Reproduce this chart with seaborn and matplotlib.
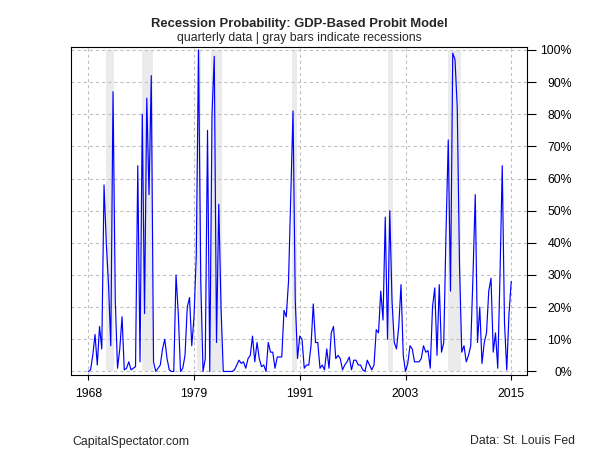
import matplotlib
matplotlib.use("Agg")
import matplotlib.pyplot as plt
import seaborn as sns
import numpy as np
import pandas as pd

# ---------------- data ----------------
start_year = 1968  # first quarter: 1968 Q1, quarterly through 2015 Q1
prob_pct = [
    0, 0.5, 5, 11.5, 2, 14, 7, 58, 40, 27,
    8, 87, 22, 1, 7, 17, 0.5, 1, 3, 0.5,
    1, 1.5, 64, 3, 80, 18, 85, 55, 92, 3,
    0, 1, 2, 7, 10, 4, 0.5, 0, 0, 30,
    18, 0, 1, 5, 20, 23, 8, 17, 36, 100,
    28, 0, 4, 75, 0, 80, 98, 9, 52, 20,
    0, 0, 0, 0, 0, 0.5, 2, 3.5, 2.5, 3,
    1, 4, 5, 11, 3, 9, 4, 1.5, 2, 0,
    9, 6, 6, 1, 4.5, 4.5, 4.5, 19, 17, 28,
    55, 81, 22, 4, 11, 10, 1, 2, 2, 8,
    21, 9, 9, 1, 2, 0.5, 7, 1, 12, 14,
    4, 5, 4, 0.5, 2, 3, 4.5, 0.5, 3.5, 3.5,
    2, 2, 0.5, 0, 3.5, 2, 0.5, 2, 13, 12,
    25, 16, 48, 10, 50, 22, 9, 7, 14, 27,
    5, 0, 2.5, 8, 7, 3, 3, 3, 4, 8,
    6, 6.5, 1, 20, 26, 5, 27, 6, 9, 43,
    72, 25, 99, 97, 82, 33, 6, 8, 3, 5,
    8, 30, 55, 9, 20, 2.5, 9, 12, 25, 29,
    6, 12, 1, 30, 64, 15, 0.5, 18, 28,
]
rec_start = ["1970-01", "1973-12", "1980-02", "1981-08", "1990-08", "2001-04", "2008-01"]
rec_end = ["1970-11", "1975-03", "1980-07", "1982-11", "1991-03", "2001-11", "2009-06"]
tick_quarter_idx = [0, 47, 94, 141, 188]
tick_labels = ["1968", "1979", "1991", "2003", "2015"]
y_ticks = list(range(0, 101, 10))
y_tick_labels = [f"{v}%" for v in y_ticks]

title = "Recession Probability: GDP-Based Probit Model"
subtitle = "quarterly data | gray bars indicate recessions"
footer_left = "CapitalSpectator.com"
footer_right = "Data: St. Louis Fed"

# ---------------- prep ----------------
def ym_to_float(s):
    y, m = s.split("-")
    return int(y) + (int(m) - 1) / 12.0

t = start_year + np.arange(len(prob_pct)) / 4.0
df = pd.DataFrame({"t": t, "p": prob_pct})

# ---------------- style ----------------
sns.set_style("white")
plt.rcParams["font.family"] = ["Liberation Sans", "DejaVu Sans"]
plt.rcParams["lines.scale_dashes"] = False
FS = 8.8

fig = plt.figure(figsize=(6, 4.5), dpi=100)
ax = fig.add_axes([71 / 600, 1 - 375 / 450, 456 / 600, 328.3 / 450])

# recession bars
for s, e in zip(rec_start, rec_end):
    ax.fill_between([ym_to_float(s), ym_to_float(e)], 0, 100,
                    color="#ebebeb", linewidth=0, zorder=1)

# grid
grid_kw = dict(color="#bebebe", linewidth=0.8, linestyle=(0, (2.2, 2.2)), zorder=1.5)
for yv in y_ticks:
    ax.axhline(yv, **grid_kw)
xt = [start_year + q / 4.0 for q in tick_quarter_idx]
for xv in xt:
    ax.axvline(xv, **grid_kw)

# line
sns.lineplot(data=df, x="t", y="p", ax=ax, color="#0000ff",
             linewidth=0.85, estimator=None, zorder=3)

ax.set_xlim(1966.08, 2016.75)
ax.set_ylim(-1.1, 101.0)
ax.set_xlabel("")
ax.set_ylabel("")

ax.set_xticks(xt)
ax.set_xticklabels(tick_labels, fontsize=FS)
ax.yaxis.tick_right()
ax.set_yticks(y_ticks)
ax.set_yticklabels(y_tick_labels, fontsize=FS)
for lab in ax.get_yticklabels():
    lab.set_horizontalalignment("right")

ax.tick_params(axis="x", bottom=True, top=False, length=3.6, width=0.8,
               direction="out", pad=6, colors="black")
ax.tick_params(axis="y", left=False, right=True, length=6.3, width=0.8,
               direction="out", pad=26.0, colors="black")

for sp in ax.spines.values():
    sp.set_color("black")
    sp.set_linewidth(0.8)
    sp.set_visible(True)

# texts
fig.text(299 / 600, 1 - 27.5 / 450, title, ha="center", va="baseline",
         fontsize=9.4, fontweight="bold")
fig.text(299 / 600, 1 - 40.5 / 450, subtitle, ha="center", va="baseline",
         fontsize=FS)
fig.text(72 / 600, 1 - 444.5 / 450, footer_left, ha="left", va="baseline", fontsize=FS)
fig.text(575 / 600, 1 - 444.5 / 450, footer_right, ha="right", va="baseline", fontsize=FS)

fig.savefig("out.png", dpi=100)
